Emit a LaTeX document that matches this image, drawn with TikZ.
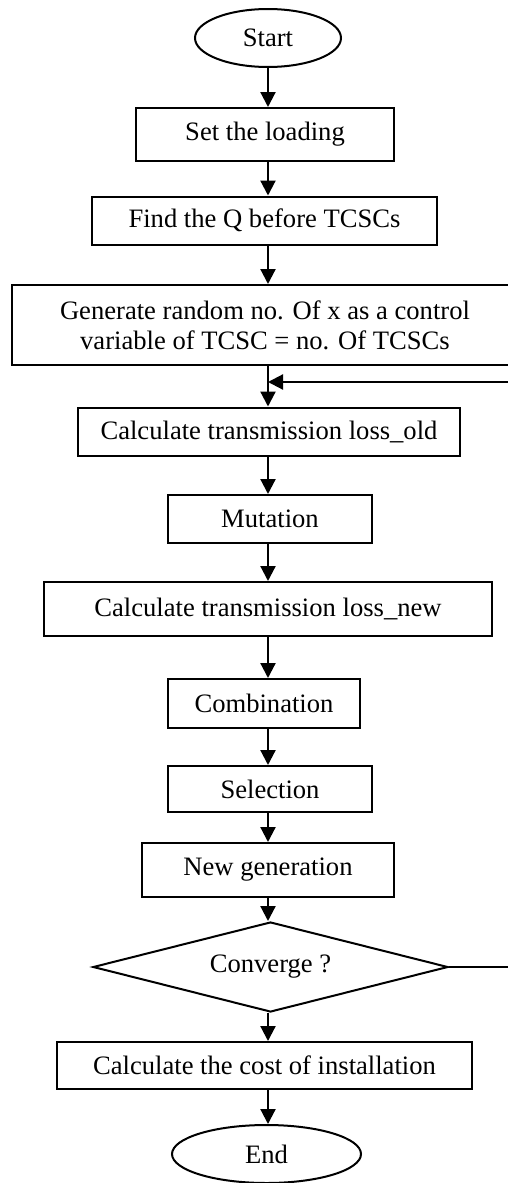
\documentclass[tikz,border=0pt]{standalone}
\usepackage{fontspec}
\setmainfont{Liberation Serif}
\usetikzlibrary{arrows.meta,shapes.geometric}
\begin{document}
\begin{tikzpicture}[x=1pt,y=-1pt,
  txt/.style={font=\fontsize{26.6}{30}\selectfont, align=center, inner sep=0pt},
  stepbox/.style={txt, draw, rectangle, line width=2pt},
  term/.style={txt, draw, ellipse, line width=2pt},
  decide/.style={txt, draw, diamond, line width=2pt, aspect=3.94},
  arr/.style={line width=2.2pt, -{Triangle[length=15pt,width=15pt]}},
  ln/.style={line width=2.2pt}]
\path[use as bounding box, clip] (0,0) rectangle (508,1183);
\fill[white] (0,0) rectangle (508,1183);
\coordinate (spine) at (268,0);
\node[term, minimum width=146pt, minimum height=58pt] (start) at (268,38) {Start};
\node[stepbox, minimum width=258pt, minimum height=53pt] (load) at (265,134.5) {Set the loading};
\node[stepbox, minimum width=345pt, minimum height=48pt] (findq) at (264.5,220.5) {Find the Q before TCSCs};
\node[stepbox, minimum width=506pt, minimum height=80pt] (gen) at (265,325) {Generate random no. Of x as a control\\variable of TCSC = no. Of TCSCs};
\node[stepbox, minimum width=382pt, minimum height=48pt] (old) at (269,431.5) {Calculate transmission loss\_old};
\node[stepbox, minimum width=204pt, minimum height=48pt] (mut) at (270,519) {Mutation};
\node[stepbox, minimum width=448pt, minimum height=54pt] (new) at (268,609) {Calculate transmission loss\_new};
\node[stepbox, minimum width=192pt, minimum height=49pt] (comb) at (264,703.5) {Combination};
\node[stepbox, minimum width=204pt, minimum height=46pt] (sel) at (270,789) {Selection};
\node[stepbox, minimum width=252pt, minimum height=54pt] (newgen) at (268,870) {New generation};
\node[decide, minimum width=355pt, minimum height=90pt] (conv) at (270.5,967) {Converge ?};
\node[stepbox, minimum width=415pt, minimum height=47pt] (cost) at (264.5,1065.5) {Calculate the cost of installation};
\node[term, minimum width=189pt, minimum height=58pt] (end) at (266.5,1154) {End};

\draw[arr] (start.south -| spine) -- (load.north -| spine);
\draw[arr] (load.south -| spine) -- (findq.north -| spine);
\draw[arr] (findq.south -| spine) -- (gen.north -| spine);
\draw[arr] (gen.south -| spine) -- (old.north -| spine);
\draw[arr] (old.south -| spine) -- (mut.north -| spine);
\draw[arr] (mut.south -| spine) -- (new.north -| spine);
\draw[arr] (new.south -| spine) -- (comb.north -| spine);
\draw[arr] (comb.south -| spine) -- (sel.north -| spine);
\draw[arr] (sel.south -| spine) -- (newgen.north -| spine);
\draw[arr] (newgen.south -| spine) -- (conv.north -| spine);
\draw[arr] (conv.south -| spine) -- (cost.north -| spine);
\draw[arr] (cost.south -| spine) -- (end.north -| spine);

\coordinate (fbR) at (520,967);
\coordinate (fbE) at (268,382);
\draw[arr] (conv.east) -- (fbR) |- (fbE);
\end{tikzpicture}
\end{document}
